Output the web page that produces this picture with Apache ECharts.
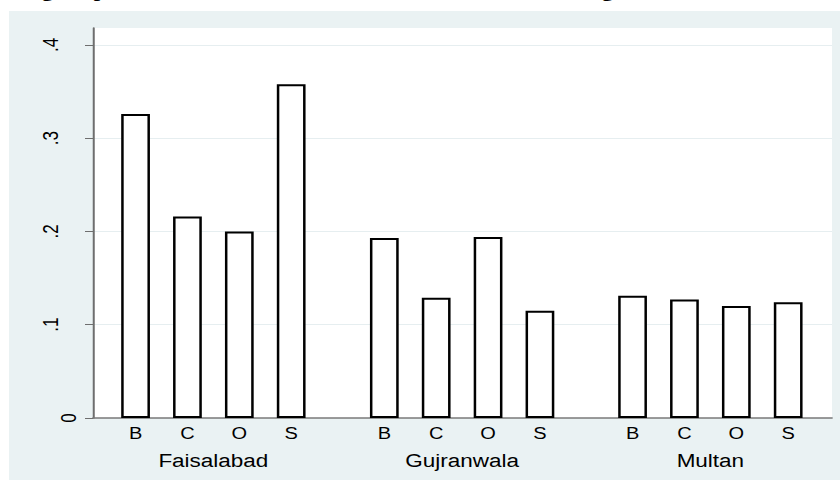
<!DOCTYPE html>
<html>
<head>
<meta charset="utf-8">
<script src="https://cdn.jsdelivr.net/npm/echarts@6/dist/echarts.min.js"></script>
<style>
html,body{margin:0;padding:0;background:#fff;overflow:hidden;width:840px;height:482px;}
#chart{width:672px;height:482px;transform:scaleX(1.25);transform-origin:0 0;}
</style>
</head>
<body>
<div id="chart"></div>
<script>
// ---- data ----
const categories = ['B', 'C', 'O', 'S'];
const regions = ['Faisalabad', 'Gujranwala', 'Multan'];
const faisalabad = [0.326, 0.216, 0.200, 0.358];
const gujranwala = [0.193, 0.129, 0.194, 0.115];
const multan = [0.131, 0.127, 0.120, 0.124];
const yTickValues = [0, 0.1, 0.2, 0.3, 0.4];
const yTickLabels = ['0', '.1', '.2', '.3', '.4'];

const seriesValues = [faisalabad, gujranwala, multan];

// ---- layout (unscaled px; page is stretched 1.25x horizontally like the source) ----
const W = 672, H = 482;
const plotTop = 28, plotBottom = 64, plotLeft = 74.4, plotRight = 6.4;
const yMax = 0.4182;
const groupLefts = [87.7, 286.7, 485.3];
const groupWidth = 166;
const FONT = "'Liberation Sans', Arial, sans-serif";
const labelFor = v => yTickLabels[yTickValues.findIndex(t => Math.abs(t - v) < 1e-9)] ?? '';

const grids = [{
  left: plotLeft, right: plotRight, top: plotTop, bottom: plotBottom,
  show: true, backgroundColor: '#ffffff', borderWidth: 0
}];
const xAxes = [{
  gridIndex: 0, type: 'value', min: 0, max: 1,
  axisLine: { show: true, lineStyle: { color: '#7a7a7a', width: 1.5 } },
  axisTick: { show: false }, axisLabel: { show: false }, splitLine: { show: false }
}];
const yAxes = [{
  gridIndex: 0, type: 'value', min: 0, max: yMax, position: 'left',
  axisLine: { show: true, lineStyle: { color: '#6e6e6e', width: 1.6 } },
  axisTick: { show: true, length: 6.4, customValues: yTickValues, lineStyle: { color: '#6e6e6e', width: 1 } },
  axisLabel: {
    customValues: yTickValues.slice(1), rotate: 90, margin: 25,
    fontFamily: FONT, fontSize: 17, color: '#000', formatter: labelFor
  },
  splitLine: { show: true, lineStyle: { color: '#e6eef0', width: 1.2 } }
}];
const series = [];

regions.forEach((name, i) => {
  const gi = i + 1;
  grids.push({
    left: groupLefts[i], right: W - groupLefts[i] - groupWidth,
    top: plotTop, bottom: plotBottom
  });
  xAxes.push({
    gridIndex: gi, type: 'category', data: categories,
    axisLine: { show: false }, axisTick: { show: false },
    axisLabel: { margin: 8, fontFamily: FONT, fontSize: 16, color: '#000' },
    name: name, nameLocation: 'middle', nameGap: 34,
    nameTextStyle: { fontFamily: FONT, fontSize: 18, color: '#000' }
  });
  yAxes.push({
    gridIndex: gi, type: 'value', min: 0, max: yMax, show: false,
    splitLine: { show: false }
  });
  series.push({
    type: 'bar', name: name, xAxisIndex: gi, yAxisIndex: gi,
    data: seriesValues[i], barWidth: 23,
    itemStyle: { color: '#ffffff', borderColor: '#000000', borderWidth: 2 },
    emphasis: { disabled: true }, animation: false
  });
});

// the zero label sits closer to the axis in the source
yAxes.push({
  gridIndex: 0, type: 'value', min: 0, max: yMax, position: 'left', offset: 0,
  axisLine: { show: false }, axisTick: { show: false }, splitLine: { show: false },
  axisLabel: {
    customValues: [yTickValues[0]], rotate: 90, margin: 11,
    fontFamily: FONT, fontSize: 17, color: '#000', formatter: labelFor
  }
});

const chart = echarts.init(document.getElementById('chart'), null, { renderer: 'svg', width: W, height: H });
chart.setOption({
  animation: false,
  backgroundColor: '#ffffff',
  graphic: [
    { type: 'rect', z: -10, silent: true, shape: { x: 7.2, y: 11, width: 664.8, height: 469 }, style: { fill: '#eaf2f3' } },
    { type: 'text', silent: true, x: 38, y: -18, style: { text: 'g', font: "bold 18px 'Liberation Serif', serif", fill: '#000', align: 'center', verticalAlign: 'top' } },
    { type: 'text', silent: true, x: 75, y: -18, style: { text: 'p', font: "bold 18px 'Liberation Serif', serif", fill: '#000', align: 'left', verticalAlign: 'top' } },
    { type: 'text', silent: true, x: 486, y: -18, style: { text: 'g', font: "bold 18px 'Liberation Serif', serif", fill: '#000', align: 'center', verticalAlign: 'top' } }
  ],
  grid: grids,
  xAxis: xAxes,
  yAxis: yAxes,
  series: series
});
</script>
</body>
</html>
